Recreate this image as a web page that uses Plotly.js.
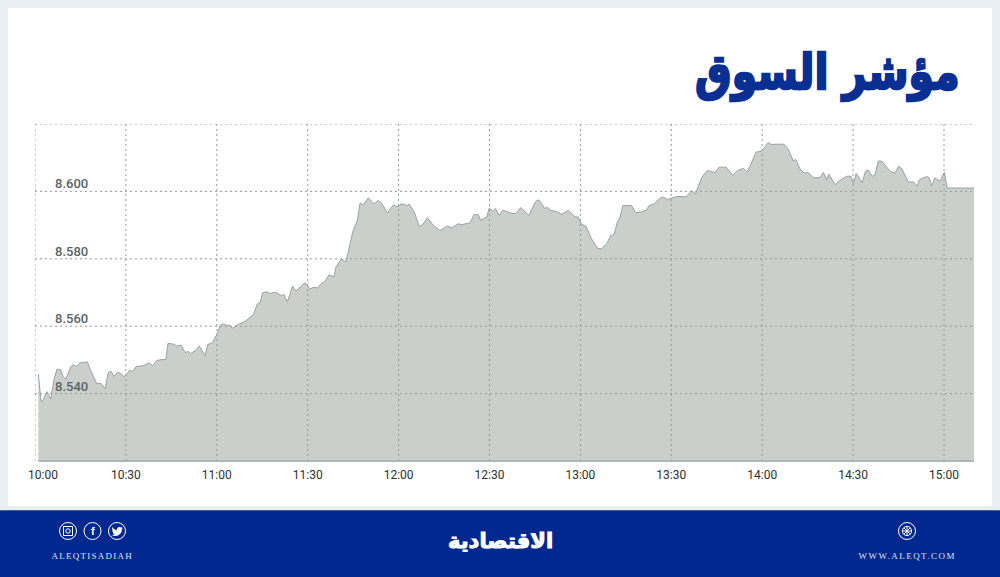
<!DOCTYPE html>
<html><head><meta charset="utf-8">
<script src="https://cdn.plot.ly/plotly-3.0.1.min.js"></script>
<style>html,body{margin:0;padding:0;background:#e9eef2}#c{width:1000px;height:577px}</style>
</head><body><div id="c"></div>
<script>
// Minutes after 10:00
const minutes = [1.1,2,2.7,3.9,5.2,6.3,7.2,8.3,9.3,10.2,11.8,12.6,13.8,14.9,17.3,18.4,20.4,21.8,23.1,24.2,25.1,26.1,27.2,28.3,29.4,31.4,32.2,33.3,35.7,37.7,38.8,40.2,41.8,43.2,43.9,45.6,46.8,48.1,49.6,50.6,51.4,52.8,54.2,56.1,57,58.6,60,61.1,62.1,63.3,64.1,65.2,67.1,69.3,72,73.4,74.3,75.1,76.5,77.6,79.2,81.4,82.2,83.3,85,86.1,87.5,89.1,90.8,92.1,93.2,94.6,95.7,97,98.7,99.3,101.2,102.6,105,106.4,107.3,108.3,110,111.9,113.3,114.4,116.3,118.3,119.4,120.5,121,122.9,123.4,125.1,126.8,128,129.5,131.5,133.7,136.1,137.5,139.7,140.8,143.6,144.9,146.3,147.1,149.1,149.9,150.9,152,153.2,154.4,157.3,158.7,160.3,163,165.3,166.3,168.3,169.1,170.2,172.7,173.8,176,178.2,179.3,180.4,181.8,183.7,185.7,187,188.7,190,191.1,192.2,193.1,194,196.9,198.3,199.7,201.7,202.7,204.3,206.3,207.4,208.7,211.8,214.9,216.7,218,220,221.9,224.4,225.8,228.1,230.3,231.8,233.8,235.1,238,239.8,242,243.1,244.2,247.2,248.6,250.3,251,252.5,253.8,255,256.9,259.1,260.2,261.3,262,264.1,265.7,267.9,269.3,270.1,271,273,274.1,275,276.3,277.2,278.3,279.4,282.2,283.8,285,286.1,288.2,289.9,291.2,291.9,294.3,295.1,295.9,297,298.7,300.1,301.1,310];
const indexValues = [8545.8,8537.6,8538.1,8540.6,8538.4,8544.3,8547.1,8547.2,8545.1,8544.3,8548,8548.5,8548.1,8549.1,8549.4,8546.8,8543,8543,8541.5,8546.3,8546.6,8545.1,8546.3,8546,8545,8547,8546.5,8548,8548.3,8549.1,8548.3,8549.8,8550.1,8550.1,8554.9,8554.7,8554.1,8554.4,8552.2,8552.5,8551.9,8552.7,8554.1,8551.3,8554.5,8555.2,8557.5,8560.2,8560.7,8560.2,8560.4,8559.4,8560.5,8561.4,8563.4,8566.6,8566.9,8569.9,8570.2,8569.7,8570.1,8569.1,8569.4,8567.2,8571.9,8570.4,8571.6,8572.9,8571.1,8571.6,8571.3,8572.7,8573.3,8575.2,8574.7,8577.5,8580,8579,8588.4,8591.4,8596.6,8596,8598.1,8596.3,8597.3,8596.5,8593.6,8596,8595.5,8596,8596.3,8595.8,8596.3,8594.1,8589.6,8590.2,8592.2,8589.9,8588.4,8589.7,8589.2,8590.4,8590.1,8590.7,8593.1,8593.1,8591.4,8592.4,8595,8594.1,8594.9,8592.9,8594.4,8593.5,8593.4,8595.2,8592.9,8597.1,8597.5,8594.9,8595.3,8594.4,8593.8,8593.2,8594.4,8592.4,8592.4,8590.2,8589.7,8585.9,8583.1,8583,8584.5,8586.9,8587.2,8590.9,8592.4,8595.8,8595.8,8593.7,8593.8,8594.4,8595.8,8596.3,8598,8598.3,8597.6,8598.5,8598.4,8600.2,8599.3,8604.1,8606.2,8605.6,8607.2,8607.2,8604.8,8606.2,8606.8,8605.7,8611.7,8611.9,8614.5,8613.9,8614,8614,8612.5,8609,8609.5,8606.7,8605.4,8605.7,8604.1,8604.1,8605.6,8603.5,8605.1,8602,8603.3,8604.5,8604.5,8602.3,8605.3,8602.6,8606,8606.4,8604.5,8604.8,8609,8609,8606,8605.4,8607.5,8606.7,8602.8,8602.8,8601.6,8603.5,8604.4,8604.1,8601.6,8604,8603,8605.7,8601,8601];

const xTickVals = [0,30,60,90,120,150,180,210,240,270,300];
const xTickText = ["10:00","10:30","11:00","11:30","12:00","12:30","13:00","13:30","14:00","14:30","15:00"];
const yGridVals = [8540,8560,8580,8600,8620];
const yLabelVals = [8540,8560,8580,8600];
const yLabelText = ["8.540","8.560","8.580","8.600"];
const titleText = "مؤشر السوق";
const logoText = "الاقتصادية";
const handleText = "ALEQTISADIAH";
const siteText = "WWW.ALEQT.COM";

const L=35,R=974,T=124,B=461;
const X=p=>(p-L)/(R-L), Y=p=>(B-p)/(B-T);
const xMax=(R-L)/3.03;

const NAVY="#00288f", GRID="#949a9b", WHITE="#ffffff";
const rect=(x0,y0,x1,y1,c)=>({type:'rect',xref:'paper',yref:'paper',x0:X(x0),x1:X(x1),y0:Y(y0),y1:Y(y1),fillcolor:c,line:{width:0},layer:'below'});
const circ=(cx,cy,r,w)=>({type:'circle',xref:'paper',yref:'paper',x0:X(cx-r),x1:X(cx+r),y0:Y(cy+r),y1:Y(cy-r),line:{color:WHITE,width:w||1},layer:'above'});
const seg=(x0,y0,x1,y1,w)=>({type:'line',xref:'paper',yref:'paper',x0:X(x0),x1:X(x1),y0:Y(y0),y1:Y(y1),line:{color:WHITE,width:w||1},layer:'above'});
const icon=d=>({type:'path',xref:'paper',yref:'paper',path:d.replace(/([\d.]+),([\d.]+)/g,(m,a,b)=>X(+a)+','+Y(+b)),fillcolor:WHITE,line:{width:0},layer:'above'});

const shapes=[
  rect(8,8,992,506,WHITE),
  rect(0,510,1000,577,NAVY),
  rect(0,510,1000,511,"#3f60ad"),
];
xTickVals.forEach(v=>shapes.push({type:'line',xref:'x',yref:'paper',x0:v,x1:v,y0:0,y1:1,line:{color:GRID,width:1,dash:'2px,3px'},layer:'above'}));
yGridVals.forEach(v=>shapes.push({type:'line',xref:'paper',yref:'y',x0:0,x1:(972-L)/(R-L),y0:v,y1:v,line:{color:GRID,width:1,dash:'2px,3px'},layer:'above'}));
shapes.push({type:'line',xref:'x',yref:'paper',x0:minutes[0],x1:xMax,y0:0,y1:0,line:{color:'#aeb5b7',width:2},layer:'above'});

// Social icons
shapes.push(circ(68,531,8.5),circ(92.5,531,8.5),circ(117,531,8.5));
shapes.push({type:'rect',xref:'paper',yref:'paper',x0:X(63.5),x1:X(72.5),y0:Y(535.5),y1:Y(526.5),line:{color:WHITE,width:1},layer:'above'});
shapes.push(circ(68,531,2.2));
shapes.push(icon("M112,527 C113.5,529 115,530 117,530 C116.5,527.5 119.5,526 121,527.5 L122.5,527 L121.7,528.5 L122.8,528.2 L121.8,529.5 C122,533 119,536 115.5,536 C114,536 113,535.6 112,535 C113,535 114,534.8 114.8,534.2 C113.8,534.2 113,533.5 112.8,532.6 L113.8,532.6 C112.8,532.2 112.2,531.3 112.2,530.3 L113.2,530.6 C112,529.5 111.8,528.2 112,527 Z"));
// Site icon
shapes.push(circ(907,531,8.5),circ(907,531,4.6));
shapes.push(seg(907,526.4,907,535.6),seg(902.4,531,911.6,531),seg(903.8,527.8,910.2,534.2),seg(903.8,534.2,910.2,527.8));

const ann=[];
const txt=(x,y,text,size,family,color,anchor,weight)=>ann.push({xref:'paper',yref:'paper',x:X(x),y:Y(y),text,showarrow:false,xanchor:anchor||'center',yanchor:'middle',font:{size,family,color,weight:weight||400}});

yLabelVals.forEach((v,i)=>ann.push({xref:'x',yref:'y',x:12.2,y:v,yanchor:'bottom',yshift:-2,xanchor:'center',showarrow:false,text:yLabelText[i],font:{family:'Roboto',size:13,color:'#5a6365',weight:500}}));
// The first time label sits to the right of its grid line
ann.push({xref:'x',yref:'paper',x:2.6,y:Y(474.5),yanchor:'middle',xanchor:'center',showarrow:false,text:xTickText[0],font:{family:'Roboto',size:12,color:'#2a3032',weight:400}});

txt(962,72,titleText,41,'DejaVu Sans','#0a2f93','right',700);
txt(500,541,logoText,21,'DejaVu Sans',WHITE,'center',700);
txt(92.5,556,handleText,9,'Liberation Serif','#dfe6f5');
txt(907,556,siteText,9,'Liberation Serif','#dfe6f5');
txt(92.5,531,'f',11,'Liberation Sans',WHITE,'center',700);

const trace={type:'scatter',mode:'lines',x:minutes,y:indexValues,fill:'tozeroy',fillcolor:'#cbcfcb',line:{color:'#98a1a4',width:1},hoverinfo:'skip'};

const layout={
  width:1000,height:577,autosize:false,showlegend:false,
  margin:{l:L,r:1000-R,t:T,b:577-B,pad:0},
  paper_bgcolor:'#e9eef2',plot_bgcolor:'rgba(0,0,0,0)',
  xaxis:{range:[0,xMax],tickmode:'array',tickvals:xTickVals.slice(1),ticktext:xTickText.slice(1),showgrid:false,zeroline:false,showline:false,ticks:'outside',ticklen:3,tickcolor:'rgba(0,0,0,0)',tickfont:{family:'Roboto',size:12,color:'#2a3032',weight:400}},
  yaxis:{range:[8520,8620],tickmode:'array',tickvals:yGridVals,showticklabels:false,showgrid:false,zeroline:false,showline:false,ticks:''},
  shapes,annotations:ann
};
Plotly.newPlot('c',[trace],layout,{staticPlot:true,displayModeBar:false}).then(()=>{
  document.querySelectorAll('.annotation-text').forEach(t=>{
    const s=t.style;
    if(t.textContent===handleText) s.letterSpacing='1.25px';
    if(t.textContent===siteText) s.letterSpacing='1.45px';
    if(t.textContent===titleText){s.stroke='#0a2f93';s.strokeWidth='2px';s.transformBox='fill-box';s.transformOrigin='center';s.transform='scaleY(1.2)';}
    if(t.textContent===logoText){s.stroke=WHITE;s.strokeWidth='1px';}
  });
});
</script></body></html>
